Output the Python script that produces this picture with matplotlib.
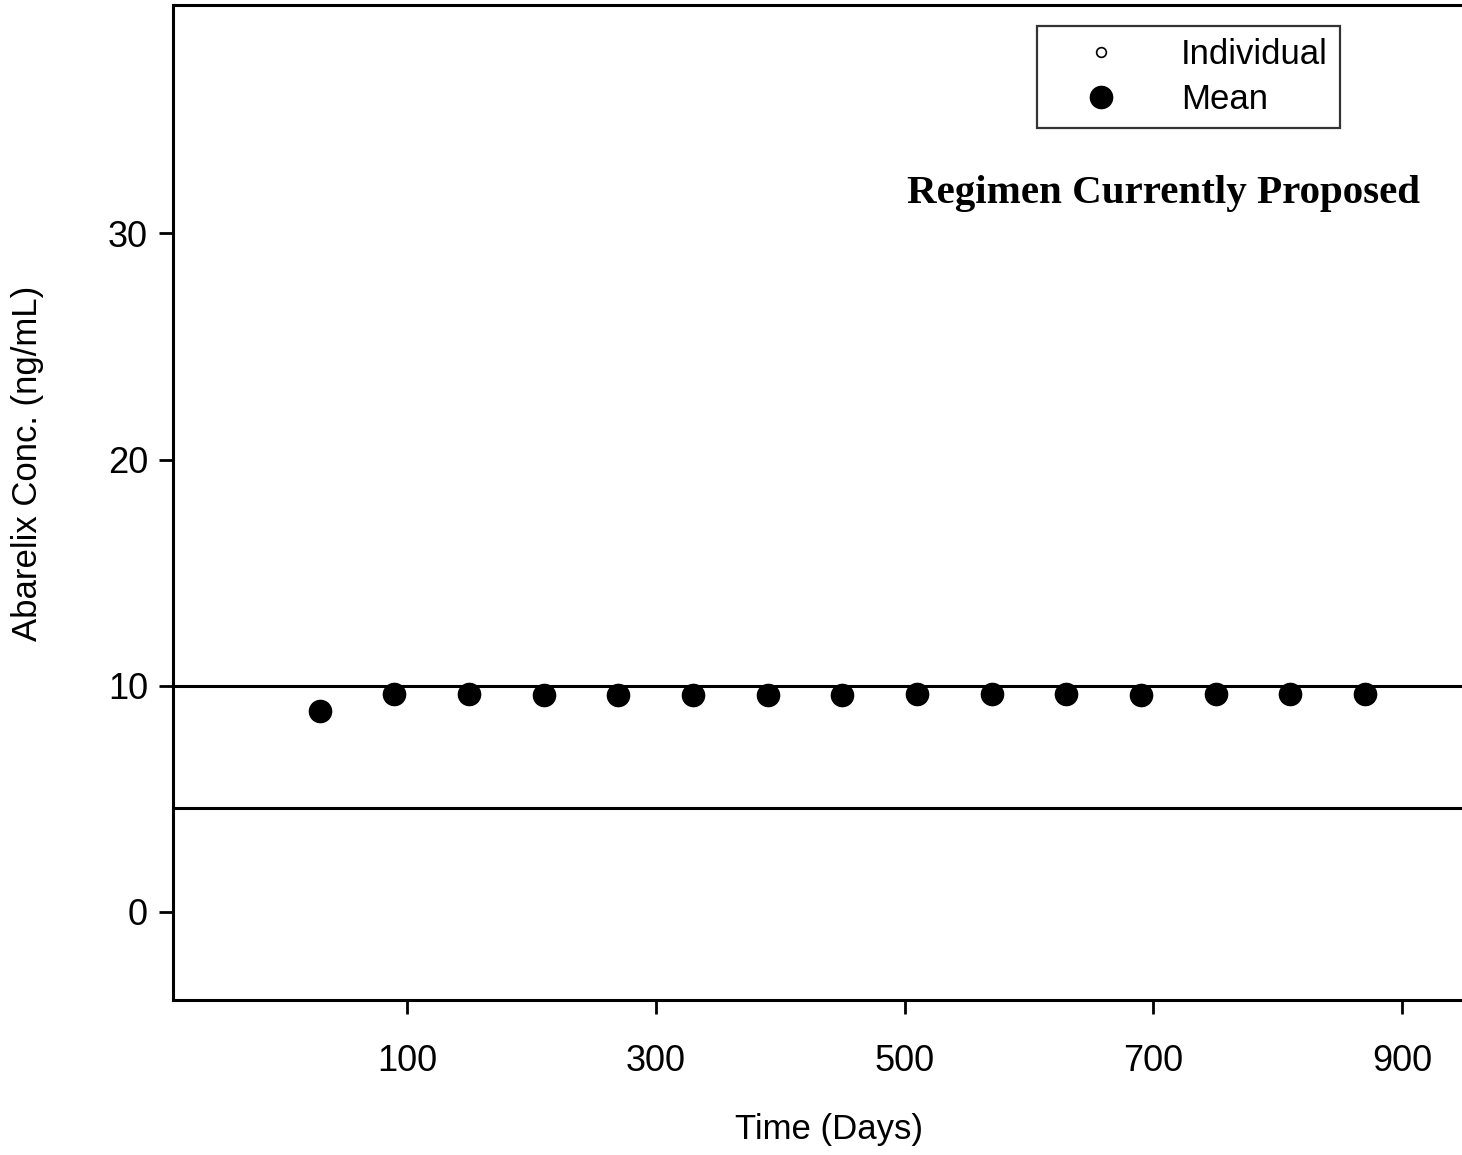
import matplotlib
matplotlib.use('Agg')
import matplotlib.pyplot as plt

# mean abarelix concentration by study day
days = [30, 90, 150, 210, 270, 330, 390, 450, 510, 570, 630, 690, 750, 810, 870]
mean_conc = [8.9, 9.65, 9.65, 9.6, 9.6, 9.6, 9.6, 9.6, 9.65, 9.65, 9.65, 9.6, 9.65, 9.65, 9.65]
# individual values (none legible in the scan)
ind_days = []
ind_conc = []
# reference lines
ref_levels = [10.0, 4.6]

xticks = [100, 300, 500, 700, 900]
yticks = [0, 10, 20, 30]

plt.rcParams['font.family'] = ['Liberation Sans', 'DejaVu Sans']

W, H = 1462, 1155
fig = plt.figure(figsize=(W / 100, H / 100), dpi=100)
ax = fig.add_axes([173 / W, 155 / H, (W - 173) / W, 995 / H])

for lv in ref_levels:
    ax.axhline(lv, color='black', lw=2.2, zorder=1)

ax.plot(ind_days, ind_conc, 'o', mfc='white', mec='black', ms=7, mew=1.2,
        linestyle='none', label='Individual')
ax.plot(days, mean_conc, 'o', color='black', ms=16, linestyle='none',
        label='Mean', zorder=3)

ax.set_xlim(-88, 948)
ax.set_ylim(-3.9, 40.1)
ax.set_xticks(xticks)
ax.set_yticks(yticks)
ax.tick_params(direction='out', length=10, width=2, labelsize=26, pad=8)
ax.tick_params(axis='x', pad=22)
ax.spines['right'].set_visible(False)
for s in ['left', 'bottom', 'top']:
    ax.spines[s].set_linewidth(2.2)

# axis titles placed where the scan has them
fig.text(829 / W, 1 - 1130 / H, 'Time (Days)', ha='center', va='center', fontsize=25)
fig.text(28 / W, 1 - 463 / H, 'Abarelix Conc. (ng/mL)', ha='center', va='center',
         rotation=90, fontsize=25)

leg = ax.legend(loc='upper right', bbox_to_anchor=(1340 / W, 1 - 26 / H),
                bbox_transform=fig.transFigure, fontsize=25, frameon=True,
                fancybox=False, edgecolor='black', handletextpad=0.8,
                borderpad=0.35, labelspacing=0.35, handlelength=3.0,
                borderaxespad=0)
leg.get_frame().set_linewidth(1.6)

fig.text(1420 / W, 1 - 193 / H, 'Regimen Currently Proposed', ha='right', va='center',
         fontsize=29.5, fontweight='bold', family='Liberation Serif')

fig.savefig('out.png', dpi=100)
